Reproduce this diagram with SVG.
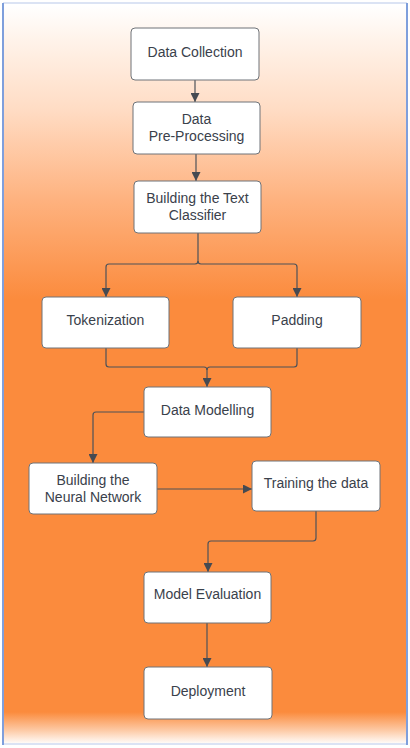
<svg xmlns="http://www.w3.org/2000/svg" width="410" height="748" viewBox="0 0 410 748">
<defs>
<linearGradient id="bg" gradientUnits="userSpaceOnUse" x1="0" y1="0" x2="0" y2="748">
<stop offset="0.007" stop-color="#ffffff"/>
<stop offset="0.053" stop-color="#fff3ea"/>
<stop offset="0.147" stop-color="#ffdcc4"/>
<stop offset="0.267" stop-color="#feb27f"/>
<stop offset="0.40" stop-color="#fb8b3d"/>
<stop offset="0.952" stop-color="#fb8b3d"/>
<stop offset="0.976" stop-color="#fdc9a4"/>
<stop offset="0.995" stop-color="#ffffff"/>
</linearGradient>
<marker id="arr" viewBox="0 0 10 10" refX="10" refY="5" markerWidth="9" markerHeight="9" markerUnits="userSpaceOnUse" orient="auto">
<path d="M0,0 L10,5 L0,10 z" fill="#454a52"/>
</marker>
</defs>
<style>
.box{fill:#ffffff;stroke:#6f7378;stroke-width:1}
.lbl{font-family:"Liberation Sans",Arial,sans-serif;font-size:14px;fill:#3a414b;text-anchor:middle}
.con{fill:none;stroke:#4d5259;stroke-width:1.2}
</style>
<rect x="3" y="3" width="404" height="741" fill="url(#bg)"/>
<line x1="3" y1="3" x2="407" y2="3" stroke="#dbe3f4" stroke-width="2"/>
<line x1="3" y1="744" x2="407" y2="744" stroke="#dbe3f4" stroke-width="2"/>
<line x1="3" y1="3" x2="3" y2="745" stroke="#7f9fdc" stroke-width="2"/>
<line x1="407" y1="3" x2="407" y2="745" stroke="#7f9fdc" stroke-width="2"/>

<g id="connectors">
<path class="con" d="M195,80 V102" marker-end="url(#arr)"/>
<path class="con" d="M196,154 V181" marker-end="url(#arr)"/>
<path class="con" d="M198,233 V261 Q198,264 195,264 H109 Q106,264 106,267 V297" marker-end="url(#arr)"/>
<path class="con" d="M198,261 Q198,264 201,264 H294 Q297,264 297,267 V297" marker-end="url(#arr)"/>
<path class="con" d="M106,348 V364 Q106,367 109,367 H204 Q207,367 207,370 V387" marker-end="url(#arr)"/>
<path class="con" d="M297,348 V364 Q297,367 294,367 H210 Q207,367 207,370"/>
<path class="con" d="M144,412 H96 Q93,412 93,415 V463" marker-end="url(#arr)"/>
<path class="con" d="M157,489 H252" marker-end="url(#arr)"/>
<path class="con" d="M316,511 V538 Q316,541 313,541 H211 Q208,541 208,544 V572" marker-end="url(#arr)"/>
<path class="con" d="M207,623 V667" marker-end="url(#arr)"/>
</g>

<g id="data-collection"><rect class="box" x="131" y="28" width="128" height="52" rx="4"/><text class="lbl" x="195" y="57">Data Collection</text></g>
<g id="data-preprocessing"><rect class="box" x="133" y="102" width="127" height="52" rx="4"/><text class="lbl" x="196.5" y="124">Data</text><text class="lbl" x="196.5" y="141">Pre-Processing</text></g>
<g id="text-classifier"><rect class="box" x="134" y="181" width="127" height="52" rx="4"/><text class="lbl" x="197.5" y="203">Building the Text</text><text class="lbl" x="197.5" y="220">Classifier</text></g>
<g id="tokenization"><rect class="box" x="42" y="297" width="127" height="51" rx="4"/><text class="lbl" x="105.5" y="325">Tokenization</text></g>
<g id="padding"><rect class="box" x="233" y="297" width="128" height="51" rx="4"/><text class="lbl" x="297" y="325">Padding</text></g>
<g id="data-modelling"><rect class="box" x="144" y="387" width="127" height="50" rx="4"/><text class="lbl" x="207.5" y="415">Data Modelling</text></g>
<g id="neural-network"><rect class="box" x="29" y="463" width="128" height="51" rx="4"/><text class="lbl" x="93" y="485">Building the</text><text class="lbl" x="93" y="502">Neural Network</text></g>
<g id="training"><rect class="box" x="252" y="461" width="128" height="50" rx="4"/><text class="lbl" x="316" y="488">Training the data</text></g>
<g id="model-evaluation"><rect class="box" x="144" y="572" width="127" height="51" rx="4"/><text class="lbl" x="207.5" y="599">Model Evaluation</text></g>
<g id="deployment"><rect class="box" x="144" y="667" width="128" height="52" rx="4"/><text class="lbl" x="208" y="696">Deployment</text></g>
</svg>
